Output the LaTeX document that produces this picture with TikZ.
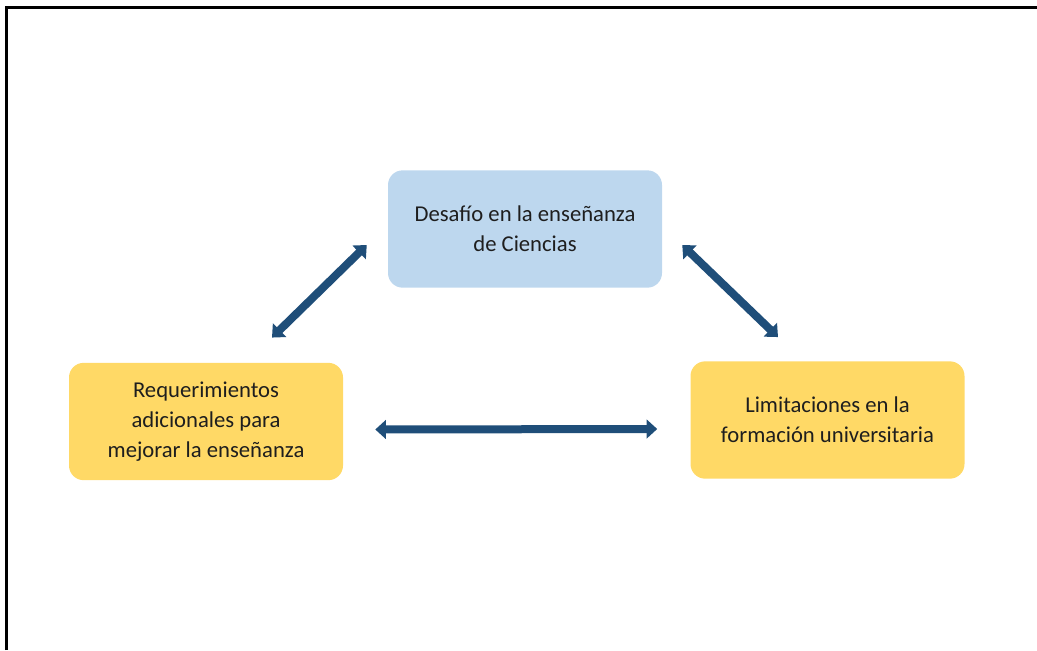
\documentclass[tikz,border=0pt]{standalone}
\usepackage{fontspec}
\setmainfont{Carlito}
\usetikzlibrary{arrows.meta,calc}
\definecolor{boxblue}{HTML}{BDD7EE}
\definecolor{boxgold}{HTML}{FFD966}
\definecolor{arrowblue}{HTML}{1F4E79}
\definecolor{txt}{HTML}{1E1E1E}
\begin{document}
\begin{tikzpicture}[x=0.75pt,y=-0.75pt,
  box/.style={rounded corners=11pt, minimum width=205.5pt, minimum height=88pt,
    align=center, font=\fontsize{17}{22.5}\selectfont, text=txt, inner sep=0pt},
  link/.style={draw=arrowblue, line width=6pt,
    {Triangle[width=14pt,length=8pt]}-{Triangle[width=14pt,length=8pt]}}]
\useasboundingbox (0,0) rectangle (1037,650);
\draw[line width=2.25pt] (6.5,650) -- (6.5,7.5) -- (1037,7.5);
\node[box, fill=boxblue] (T) at (525,229) {Desafío en la enseñanza\\de Ciencias};
\node[box, fill=boxgold] (L) at (206,421.5) {Requerimientos\\adicionales para\\mejorar la enseñanza};
\node[box, fill=boxgold] (R) at (827.5,420) {Limitaciones en la\\formación universitaria};
\draw[link] ($(L.north)+(66,-25)$) -- ($(T.west)+(-21,16)$);
\draw[link] ($(T.east)+(20,16)$) -- ($(R.north)+(-49.5,-24)$);
\draw[link] ($(L.east)+(32,8)$) -- ($(R.west)+(-33,9)$);
\end{tikzpicture}
\end{document}
